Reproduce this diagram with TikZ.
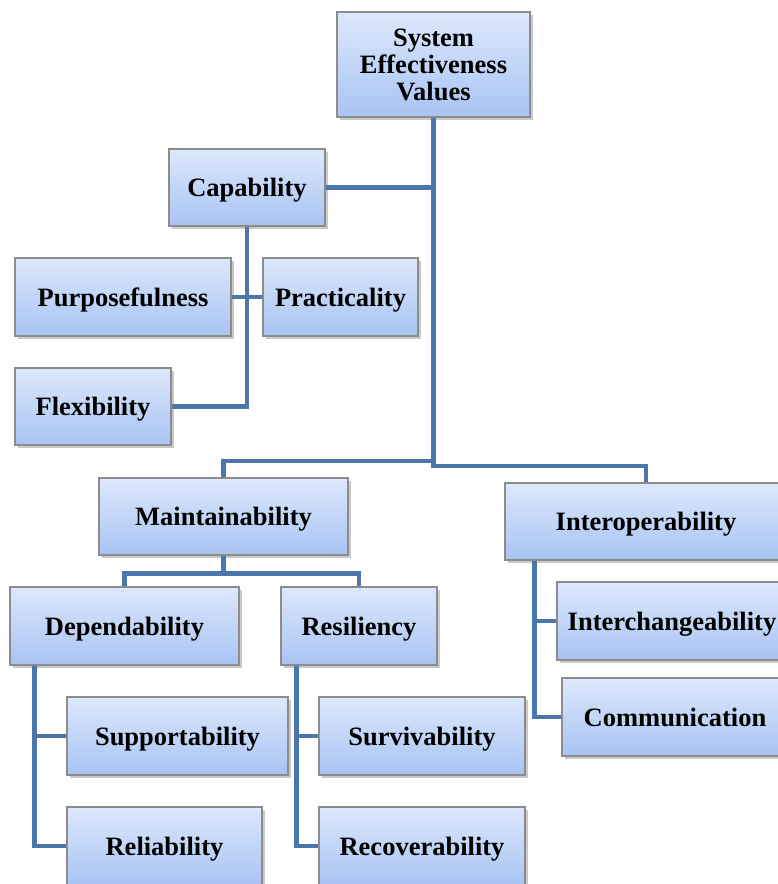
\documentclass[tikz,border=0pt]{standalone}
\usepackage{fontspec}
\setmainfont{Liberation Serif}
\usetikzlibrary{shadows,calc}
\definecolor{linec}{HTML}{4A76AB}
\definecolor{topc}{HTML}{DDE8FC}
\definecolor{botc}{HTML}{A8C3F3}
\definecolor{edgec}{HTML}{8C8C8C}
\tikzset{
  box/.style={draw=edgec, line width=1.2pt, top color=topc, bottom color=botc,
    inner sep=0pt, align=center, font=\fontsize{26.5}{27}\selectfont\bfseries,
    drop shadow={shadow xshift=2.5pt, shadow yshift=-3pt, opacity=0.35, fill=black!60}},
  lbox/.style={box, text height=22pt, text depth=4pt},
  conn/.style={draw=linec, line width=4.5pt}
}
\begin{document}
\begin{tikzpicture}[x=1pt,y=-1pt]
\useasboundingbox[fill=white] (0,0) rectangle (777,884);
\node[box, minimum width=193pt, minimum height=105pt] (sev) at (433.5,64.5) {System\\Effectiveness\\Values};
\node[lbox, minimum width=156pt, minimum height=77pt] (cap) at (247,187.5) {Capability};
\node[lbox, minimum width=216pt, minimum height=78pt] (purp) at (123,297) {Purposefulness};
\node[lbox, minimum width=155pt, minimum height=78pt] (prac) at (340.5,297) {Practicality};
\node[lbox, minimum width=156pt, minimum height=77pt] (flex) at (93,406.5) {Flexibility};
\node[lbox, minimum width=249pt, minimum height=77pt] (maint) at (223.5,516.5) {Maintainability};
\node[lbox, minimum width=282pt, minimum height=77pt] (inter) at (646,521.5) {Interoperability};
\node[lbox, minimum width=229pt, minimum height=78pt] (dep) at (124.5,626) {Dependability};
\node[lbox, minimum width=156pt, minimum height=78pt] (res) at (359,626) {Resiliency};
\node[lbox, minimum width=230pt, minimum height=78pt] (ichg) at (672,621) {Interchangeability};
\node[lbox, minimum width=226pt, minimum height=78pt] (comm) at (675,717) {Communication};
\node[lbox, minimum width=221pt, minimum height=78pt] (supp) at (177.5,736) {Supportability};
\node[lbox, minimum width=206pt, minimum height=78pt] (surv) at (422,736) {Survivability};
\node[lbox, minimum width=195pt, minimum height=78pt] (rel) at (164.5,846) {Reliability};
\node[lbox, minimum width=206pt, minimum height=78pt] (rec) at (422,846) {Recoverability};
% connectors
\coordinate (jr) at (sev.south |- 0,466);
\coordinate (jl) at (sev.south |- 0,461);
\draw[conn] (sev.south) -- (jr) -| (inter.north);
\draw[conn] (maint.north) |- (jl);
\draw[conn] (cap.east) -- (cap.east -| sev.south);
\draw[conn] (cap.south) |- (flex.east);
\draw[conn] (purp.east) -- (prac.west);
\coordinate (jm) at ($(maint.south)+(0,18)$);
\draw[conn] (maint.south) -- (jm);
\draw[conn] (dep.north) |- (jm) -| (res.north);
\coordinate (dv) at ($(dep.south west)+(25,0)$);
\draw[conn] (dv) |- (rel.west);
\draw[conn] (dv |- supp.west) -- (supp.west);
\coordinate (rv) at ($(res.south west)+(16,0)$);
\draw[conn] (rv) |- (rec.west);
\draw[conn] (rv |- surv.west) -- (surv.west);
\coordinate (iv) at ($(inter.south west)+(30,0)$);
\draw[conn] (iv) |- (comm.west);
\draw[conn] (iv |- ichg.west) -- (ichg.west);
\end{tikzpicture}
\end{document}
